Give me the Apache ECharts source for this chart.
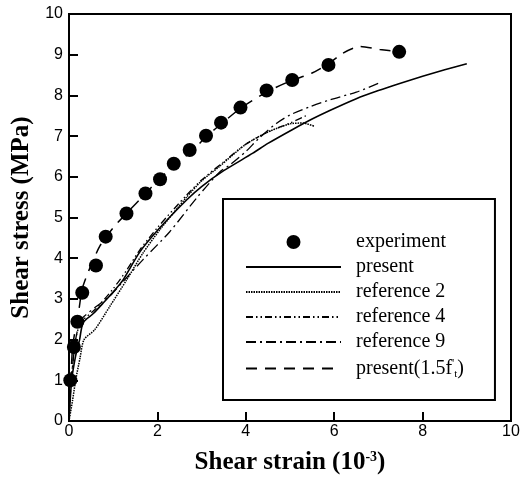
<!DOCTYPE html>
<html>
<head>
<meta charset="utf-8">
<script src="https://cdn.jsdelivr.net/npm/echarts@6/dist/echarts.min.js"></script>
<style>
html,body{margin:0;padding:0;background:#fff;}
#c{width:528px;height:477px;}
</style>
</head>
<body>
<div id="c"></div>
<script>
// ---- data ----
var xTicks = [0, 2, 4, 6, 8, 10];
var yTicks = [0, 1, 2, 3, 4, 5, 6, 7, 8, 9, 10];

var expX = [0.03, 0.11, 0.19, 0.30, 0.61, 0.83, 1.30, 1.73, 2.06, 2.37, 2.73, 3.10, 3.44, 3.88, 4.47, 5.05, 5.87, 7.47];
var expY = [1.00, 1.82, 2.44, 3.15, 3.82, 4.53, 5.10, 5.59, 5.94, 6.32, 6.66, 7.01, 7.33, 7.70, 8.12, 8.38, 8.75, 9.07];

var presentX = [0, 0.06, 0.15, 0.24, 0.32, 0.55, 0.8, 1.0, 1.22, 1.6, 2.05, 2.66, 3.0, 3.5, 4.16, 4.5, 5.07, 5.5, 5.9, 6.5, 7.0, 7.5, 8.0, 8.5, 9.0];
var presentY = [0, 1.0, 1.6, 2.0, 2.42, 2.64, 2.93, 3.17, 3.46, 4.15, 4.74, 5.43, 5.76, 6.15, 6.58, 6.82, 7.17, 7.42, 7.63, 7.92, 8.12, 8.30, 8.47, 8.63, 8.78];

var ref2X = [0, 0.08, 0.15, 0.25, 0.34, 0.58, 0.92, 1.3, 1.67, 2.05, 2.66, 3.0, 3.4, 4.0, 4.5, 5.0, 5.3, 5.55];
var ref2Y = [0, 0.5, 1.0, 1.55, 2.0, 2.24, 2.81, 3.46, 4.12, 4.69, 5.50, 5.90, 6.25, 6.80, 7.10, 7.30, 7.32, 7.24];

var ref4X = [0, 0.05, 0.15, 0.25, 0.33, 0.6, 1.0, 1.3, 1.6, 2.0, 2.66, 3.0, 3.5, 4.0, 4.5, 5.0, 5.4];
var ref4Y = [0, 1.0, 2.0, 2.4, 2.5, 2.75, 3.25, 3.7, 4.2, 4.75, 5.55, 5.92, 6.37, 6.80, 7.10, 7.32, 7.52];

var ref9X = [0, 0.05, 0.15, 0.25, 0.35, 0.6, 0.9, 1.2, 1.67, 2.28, 2.88, 3.41, 3.64, 4.0, 4.3, 4.69, 5.0, 5.45, 5.9, 6.5, 7.03];
var ref9Y = [0, 1.0, 2.0, 2.45, 2.58, 2.8, 3.05, 3.4, 3.96, 4.65, 5.47, 6.12, 6.29, 6.62, 6.95, 7.31, 7.52, 7.72, 7.89, 8.08, 8.31];

var p15X = [0, 0.04, 0.08, 0.15, 0.22, 0.3, 0.45, 0.7, 1.0, 1.3, 1.7, 2.0, 2.4, 2.8, 3.1, 3.5, 3.9, 4.5, 5.0, 5.5, 5.9, 6.2, 6.58, 7.03, 7.47];
var p15Y = [0, 1.0, 1.8, 2.3, 2.7, 3.25, 3.7, 4.3, 4.75, 5.1, 5.55, 5.9, 6.3, 6.65, 6.98, 7.35, 7.7, 8.1, 8.35, 8.55, 8.8, 9.04, 9.2, 9.13, 9.07];

var legendNames = ['experiment', 'present', 'reference 2', 'reference 4', 'reference 9', 'present(1.5f\'t)'];

function zip(xs, ys){ return xs.map(function(x,i){ return [x, ys[i]]; }); }

var chart = echarts.init(document.getElementById('c'), null, {renderer:'canvas'});
var serif = "'Liberation Serif','Times New Roman',serif";
var sans = "'Liberation Sans',Arial,sans-serif";

function lineSeries(name, xs, ys, dash, width){
  return {
    name: name, type: 'line', data: zip(xs, ys), symbol: 'none', smooth: 0.25,
    lineStyle: {color: '#000', width: width, type: dash},
    itemStyle: {color: '#000'},
    z: 2, animation: false
  };
}

var option = {
  backgroundColor: '#fff',
  animation: false,
  grid: {left: 69, right: 17, top: 14, bottom: 56, show: true, borderColor: '#000', borderWidth: 2,
         backgroundColor: 'transparent', containLabel: false, outerBoundsMode: 'none'},
  xAxis: {
    type: 'value', min: 0, max: 10, interval: 2,
    axisLine: {show: true, lineStyle: {color: '#000', width: 2}},
    axisTick: {show: true, inside: true, length: 9, lineStyle: {color: '#000', width: 2}},
    axisLabel: {color: '#000', fontFamily: sans, fontSize: 16, margin: 3,
      formatter: function(v){ return xTicks.indexOf(v) >= 0 ? String(v) : ''; }},
    splitLine: {show: false},
    name: '{b|Shear strain (10}{s|-3}{b|)}',
    nameLocation: 'middle', nameGap: 29,
    nameTextStyle: {rich: {
      b: {fontFamily: serif, fontWeight: 'bold', fontSize: 25, color: '#000'},
      s: {fontFamily: serif, fontWeight: 'bold', fontSize: 14, color: '#000', verticalAlign: 'top', padding: [0,0,12,0]}
    }}
  },
  yAxis: {
    type: 'value', min: 0, max: 10, interval: 1,
    axisLine: {show: true, lineStyle: {color: '#000', width: 2}},
    axisTick: {show: true, inside: true, length: 9, lineStyle: {color: '#000', width: 2}},
    axisLabel: {color: '#000', fontFamily: sans, fontSize: 16, margin: 6,
      formatter: function(v){ return yTicks.indexOf(v) >= 0 ? String(v) : ''; }},
    splitLine: {show: false},
    name: 'Shear stress (MPa)',
    nameLocation: 'middle', nameGap: 26,
    nameTextStyle: {fontFamily: serif, fontWeight: 'bold', fontSize: 25, color: '#000'}
  },
  legend: {
    orient: 'vertical', left: 223, top: 199,
    backgroundColor: '#fff',
    borderColor: '#000', borderWidth: 2, borderRadius: 0,
    padding: [33, 31, 20, 22],
    itemWidth: 95, itemHeight: 14, itemGap: 5,
    textStyle: {fontFamily: serif, fontSize: 20, lineHeight: 20, color: '#000', padding: [0,0,0,10],
      rich: {
        n: {fontFamily: serif, fontSize: 20, lineHeight: 20, color: '#000'},
        sp: {fontFamily: serif, fontSize: 12, lineHeight: 20, color: '#000', padding: [0,0,10,0]},
        sb: {fontFamily: serif, fontSize: 11, lineHeight: 20, color: '#000', padding: [12,0,0,0]}
      }},
    formatter: function(name){
      if (name === legendNames[5]) return '{n|present(1.5f}{sp|\'}{sb|t}{n|)}';
      return name;
    },
    data: legendNames.map(function(n, i){
      return i === 0 ? {name: n} : {name: n, itemStyle: {opacity: 0}};
    })
  },
  series: [
    {
      name: legendNames[0], type: 'scatter', data: zip(expX, expY),
      symbol: 'circle', symbolSize: 14,
      itemStyle: {color: '#000', opacity: 1}, z: 5
    },
    lineSeries(legendNames[1], presentX, presentY, 'solid', 1.6),
    lineSeries(legendNames[2], ref2X, ref2Y, [1.5, 1], 1.5),
    lineSeries(legendNames[3], ref4X, ref4Y, [7, 3, 1.5, 3, 1.5, 3], 1.3),
    lineSeries(legendNames[4], ref9X, ref9Y, [10, 4, 2, 4], 1.3),
    lineSeries(legendNames[5], p15X, p15Y, [11, 8], 1.5)
  ]
};
chart.setOption(option);
</script>
</body>
</html>
